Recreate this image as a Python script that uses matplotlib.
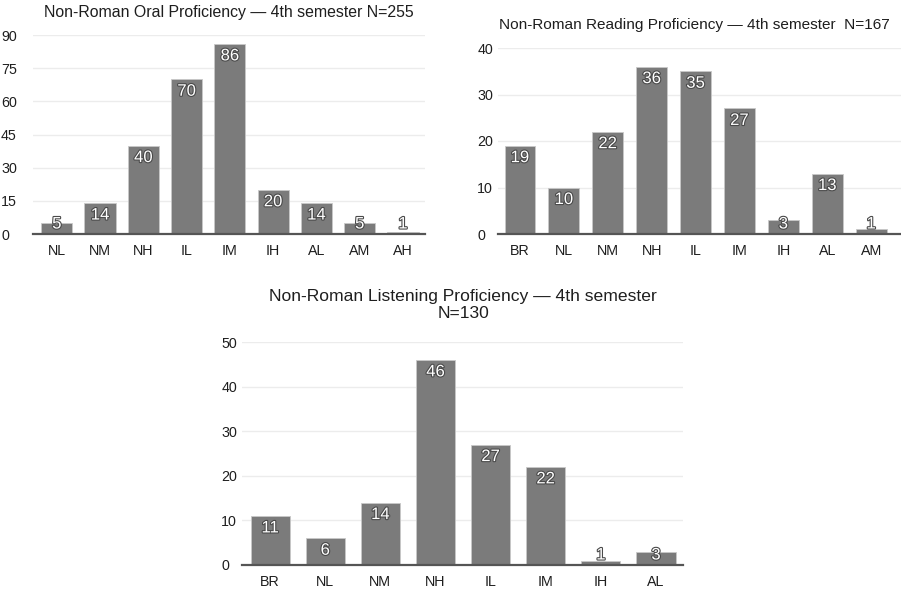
import matplotlib
matplotlib.use("Agg")
import matplotlib.pyplot as plt
import matplotlib.patheffects as pe

plt.rcParams['font.family'] = ['Liberation Sans', 'DejaVu Sans']

oral_levels = ["NL", "NM", "NH", "IL", "IM", "IH", "AL", "AM", "AH"]
oral_counts = [5, 14, 40, 70, 86, 20, 14, 5, 1]

reading_levels = ["BR", "NL", "NM", "NH", "IL", "IM", "IH", "AL", "AM"]
reading_counts = [19, 10, 22, 36, 35, 27, 3, 13, 1]

listening_levels = ["BR", "NL", "NM", "NH", "IL", "IM", "IH", "AL"]
listening_counts = [11, 6, 14, 46, 27, 22, 1, 3]

W, H = 901, 591
fig = plt.figure(figsize=(W / 100, H / 100), dpi=100)

BAR = "#7b7b7b"
GRID = "#ececec"
AXIS = "#555555"
TXT = "#1e1e1e"


def px_axes(left, right, top, bottom):
    return fig.add_axes([left / W, 1 - bottom / H, (right - left) / W, (bottom - top) / H])


def bar_chart(ax, levels, counts, ymax, step, xlim, width):
    x = range(len(levels))
    ax.bar(x, counts, width=width, color=BAR, edgecolor="#c8c8c8", linewidth=0.6, zorder=2)
    ax.set_xlim(*xlim)
    ax.set_ylim(0, ymax)
    ax.set_yticks(range(0, ymax + 1, step))
    ax.set_xticks(list(x))
    ax.set_xticklabels(levels)
    ax.grid(axis="y", color=GRID, linewidth=1, zorder=0)
    for s in ["top", "right", "left"]:
        ax.spines[s].set_visible(False)
    ax.spines["bottom"].set_color(AXIS)
    ax.spines["bottom"].set_linewidth(1.6)
    ax.spines["bottom"].set_zorder(3)
    ax.tick_params(axis="both", length=0, labelsize=10.3, colors=TXT, pad=7)
    ax.tick_params(axis="y", pad=15)
    for lab in ax.get_yticklabels():
        lab.set_horizontalalignment("left")

    # value labels sit just under the bar top, but never below the baseline
    h_px = ax.get_position().height * H
    unit = ymax / h_px
    for xi, v in zip(x, counts):
        y = max(v - 12 * unit, 10 * unit)
        ax.text(xi, y, str(v), ha="center", va="center", fontsize=12, color="white",
                zorder=4, path_effects=[pe.withStroke(linewidth=1.6, foreground="#4a4a4a")])


ax1 = px_axes(33, 425, 35, 234)
bar_chart(ax1, oral_levels, oral_counts, 90, 15, (-0.55, 8.51), 0.72)
ax1.tick_params(axis="y", pad=23)
fig.text(229 / W, 1 - 12 / H, "Non-Roman Oral Proficiency — 4th semester N=255",
         ha="center", va="center", fontsize=11.4, color=TXT)

ax2 = px_axes(498, 901, 48, 234)
bar_chart(ax2, reading_levels, reading_counts, 40, 10, (-0.5, 8.68), 0.70)
fig.text(499 / W, 1 - 25 / H, "Non-Roman Reading Proficiency — 4th semester  N=167",
         ha="left", va="center", fontsize=11.1, color=TXT)

ax3 = px_axes(242, 683, 342, 565)
bar_chart(ax3, listening_levels, listening_counts, 50, 10, (-0.51, 7.49), 0.71)
fig.text(463 / W, 1 - 305 / H, "Non-Roman Listening Proficiency — 4th semester\nN=130",
         ha="center", va="center", fontsize=12.6, color=TXT, linespacing=1.1)

fig.savefig("out.png", dpi=100, facecolor="white")
